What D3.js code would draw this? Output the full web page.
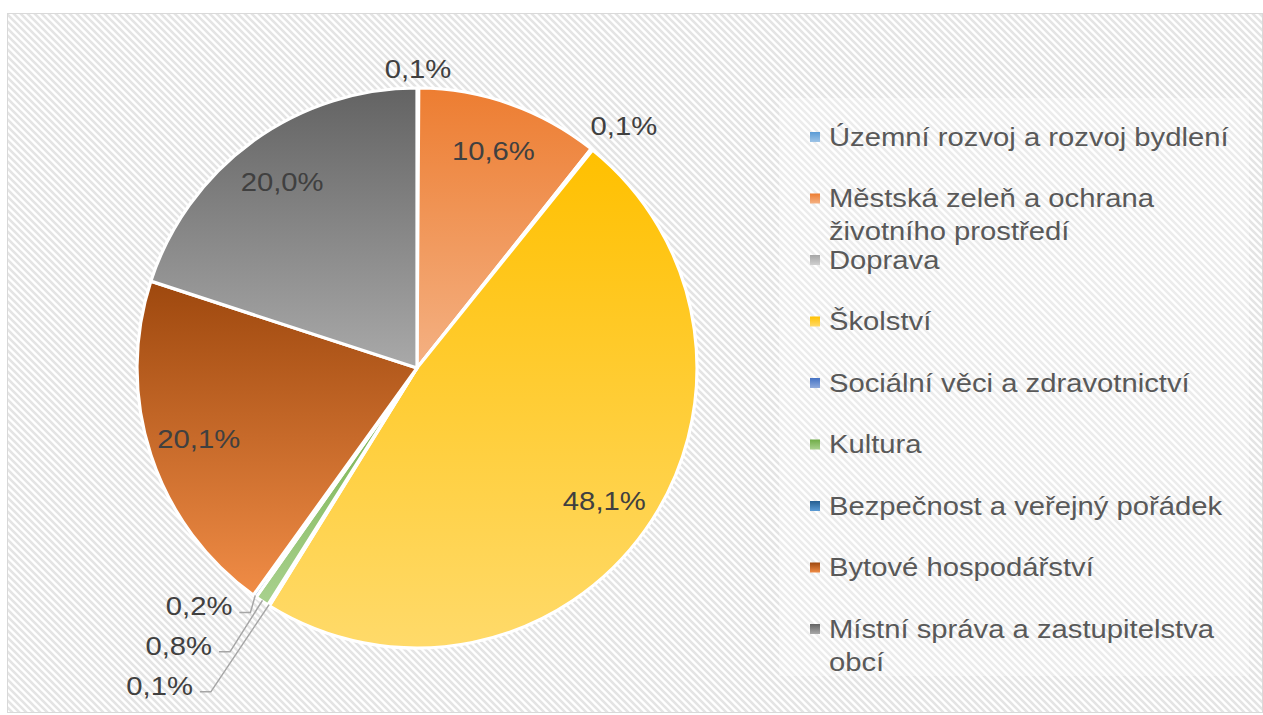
<!DOCTYPE html>
<html>
<head>
<meta charset="utf-8">
<script src="https://cdn.jsdelivr.net/npm/d3@7"></script>
<style>
    body { margin: 0; background: #fff; }
    text { font-family: "Liberation Sans", Arial, sans-serif; }
</style>
</head>
<body>
<div id="chart"></div>
<script>

// categories, in the order the slices go clockwise from 12 o'clock
const categories = [
    "Územní rozvoj a rozvoj bydlení",
    "Městská zeleň a ochrana životního prostředí",
    "Doprava",
    "Školství",
    "Sociální věci a zdravotnictví",
    "Kultura",
    "Bezpečnost a veřejný pořádek",
    "Bytové hospodářství",
    "Místní správa a zastupitelstva obcí"
];

// shares in percent
const values = [0.1, 10.6, 0.1, 48.1, 0.1, 0.8, 0.2, 20.1, 20.0];

// gradient colours: top (shade) and bottom (tint)
const topColors = ['#5B9BD5', '#ED7D31', '#A5A5A5', '#FFC000', '#4472C4', '#70AD47', '#255E91', '#9E480E', '#636363'];
const bottomColors = ['#9DC3E6', '#F4B183', '#CFCFCF', '#FFDA6A', '#8FAADC', '#A9D18E', '#5B9BD5', '#F08C46', '#A9A9A9'];

let width = 1263, height = 715;
let cx = 417, cy = 368, radius = 280;
let fontSize = 25, stretch = 1.17;

let svg = d3.select("#chart").append("svg")
    .attr("width", width)
    .attr("height", height);

let defs = svg.append("defs");

// hatched background
let pat = defs.append("pattern")
    .attr("id", "hatch")
    .attr("patternUnits", "userSpaceOnUse")
    .attr("width", 7)
    .attr("height", 7);
pat.append("rect").attr("width", 7).attr("height", 7).attr("fill", "#fff");
pat.append("path")
    .attr("d", "M-1,-1 L8,8 M-4,3 L4,11 M3,-4 L11,4")
    .attr("stroke", "#e4e4e4")
    .attr("stroke-width", 2.6);

// one gradient per category
categories.forEach((c, i) => {
    let g = defs.append("linearGradient")
        .attr("id", "grad" + i)
        .attr("x1", 0).attr("y1", 0)
        .attr("x2", 0).attr("y2", 1);
    g.append("stop").attr("offset", "0%").attr("stop-color", topColors[i]);
    g.append("stop").attr("offset", "100%").attr("stop-color", bottomColors[i]);
});

svg.append("rect")
    .attr("x", 7.5)
    .attr("y", 13.5)
    .attr("width", 1255)
    .attr("height", 699)
    .attr("fill", "url(#hatch)")
    .attr("stroke", "#d9d9d9")
    .attr("stroke-width", 1);

// pie
let pie = d3.pie().sort(null).value(d => d.value);
let data = pie(categories.map((c, i) => ({name: c, value: values[i], index: i})));

let arc = d3.arc().innerRadius(0).outerRadius(radius);
let labelArc = d3.arc().innerRadius(radius * 0.82).outerRadius(radius * 0.82);

let pieG = svg.append("g")
    .attr("transform", `translate(${cx}, ${cy})`);

pieG.selectAll(".slice")
    .data(data)
    .enter().append("path")
    .attr("class", "slice")
    .attr("d", arc)
    .attr("fill", d => `url(#grad${d.data.index})`)
    .attr("stroke", "#fff")
    .attr("stroke-width", 3.2)
    .attr("stroke-linejoin", "round");

let fmt = v => d3.format(".1f")(v).replace(".", ",") + "%";

function addText(parent, str, x, y, fill, anchor) {
    let t = parent.append("text")
        .attr("transform", `translate(${x}, ${y}) scale(${stretch}, 1)`)
        .attr("text-anchor", anchor || "middle")
        .attr("dy", "0.35em")
        .attr("font-size", fontSize)
        .attr("fill", fill)
        .text(str);
    return t;
}

let polar = (a, r) => [r * Math.sin(a), -r * Math.cos(a)];

// group small slices into runs of neighbours
let small = data.map(d => d.data.value < 1);
let runs = [];
data.forEach((d, i) => {
    if (!small[i]) return;
    if (i > 0 && small[i - 1]) runs[runs.length - 1].push(d);
    else runs.push([d]);
});

let labelG = pieG.append("g");

// big slices: inside labels
data.filter((d, i) => !small[i]).forEach(d => {
    let [x, y] = labelArc.centroid(d);
    addText(labelG, fmt(d.data.value), x, y, "#404040");
});

// small slices: outside labels
runs.forEach(run => {
    if (run.length === 1) {
        let d = run[0];
        let mid = (d.startAngle + d.endAngle) / 2;
        let t = addText(labelG, fmt(d.data.value), 0, 0, "#404040");
        let hw = t.node().getComputedTextLength() * stretch / 2 + 4;
        let hh = fontSize * 0.56 + 4;
        let r = radius + 1 + hw * Math.abs(Math.sin(mid)) + hh * Math.abs(Math.cos(mid));
        // nudge clockwise like the best-fit placement
        let a = mid + 3 * Math.PI / 180 * Math.abs(Math.sin(mid));
        let [x, y] = polar(a, r);
        t.attr("transform", `translate(${x}, ${y}) scale(${stretch}, 1)`);
    } else {
        // stacked outward, the slice nearest the next big one first
        run.slice().reverse().forEach((d, k) => {
            let mid = (d.startAngle + d.endAngle) / 2;
            let r = radius + 43 + 43 * k;
            let [x, y] = polar(mid + 7 * Math.PI / 180, r);
            let t = addText(labelG, fmt(d.data.value), x, y, "#404040");
            let w = t.node().getComputedTextLength() * stretch;
            let lx = x + w / 2 + 7;
            let ly = y + 6;
            let [ex, ey] = polar(mid, radius - 1);
            labelG.append("path")
                .attr("d", `M${lx},${ly} L${lx + 11},${ly} L${ex},${ey}`)
                .attr("fill", "none")
                .attr("stroke", "#a6a6a6")
                .attr("stroke-width", 1.5);
        });
    }
});

// legend
let legendG = svg.append("g").attr("class", "legend");
legendG.append("rect")
    .attr("x", 779)
    .attr("y", 98)
    .attr("width", 470)
    .attr("height", 578)
    .attr("fill", "#fff")
    .attr("fill-opacity", 0.3);

let legendTop = 137, rowStep = 61.5, lineStep = 33;
let markerX = 810, textX = 829, maxW = 410;

categories.forEach((c, i) => {
    let y = legendTop + i * rowStep;
    legendG.append("rect")
        .attr("x", markerX)
        .attr("y", y - 5)
        .attr("width", 10)
        .attr("height", 10)
        .attr("fill", `url(#grad${i})`);

    // word wrap against the measured width
    let words = c.split(" ");
    let lines = [];
    let line = "";
    let probe = addText(legendG, "", textX, -100, "#595959", "start");
    words.forEach(w => {
        let test = line ? line + " " + w : w;
        probe.text(test);
        if (probe.node().getComputedTextLength() * stretch > maxW && line) {
            lines.push(line);
            line = w;
        } else {
            line = test;
        }
    });
    lines.push(line);
    probe.remove();

    lines.forEach((l, j) => {
        addText(legendG, l, textX, y + j * lineStep, "#595959", "start");
    });
});

</script>
</body>
</html>
